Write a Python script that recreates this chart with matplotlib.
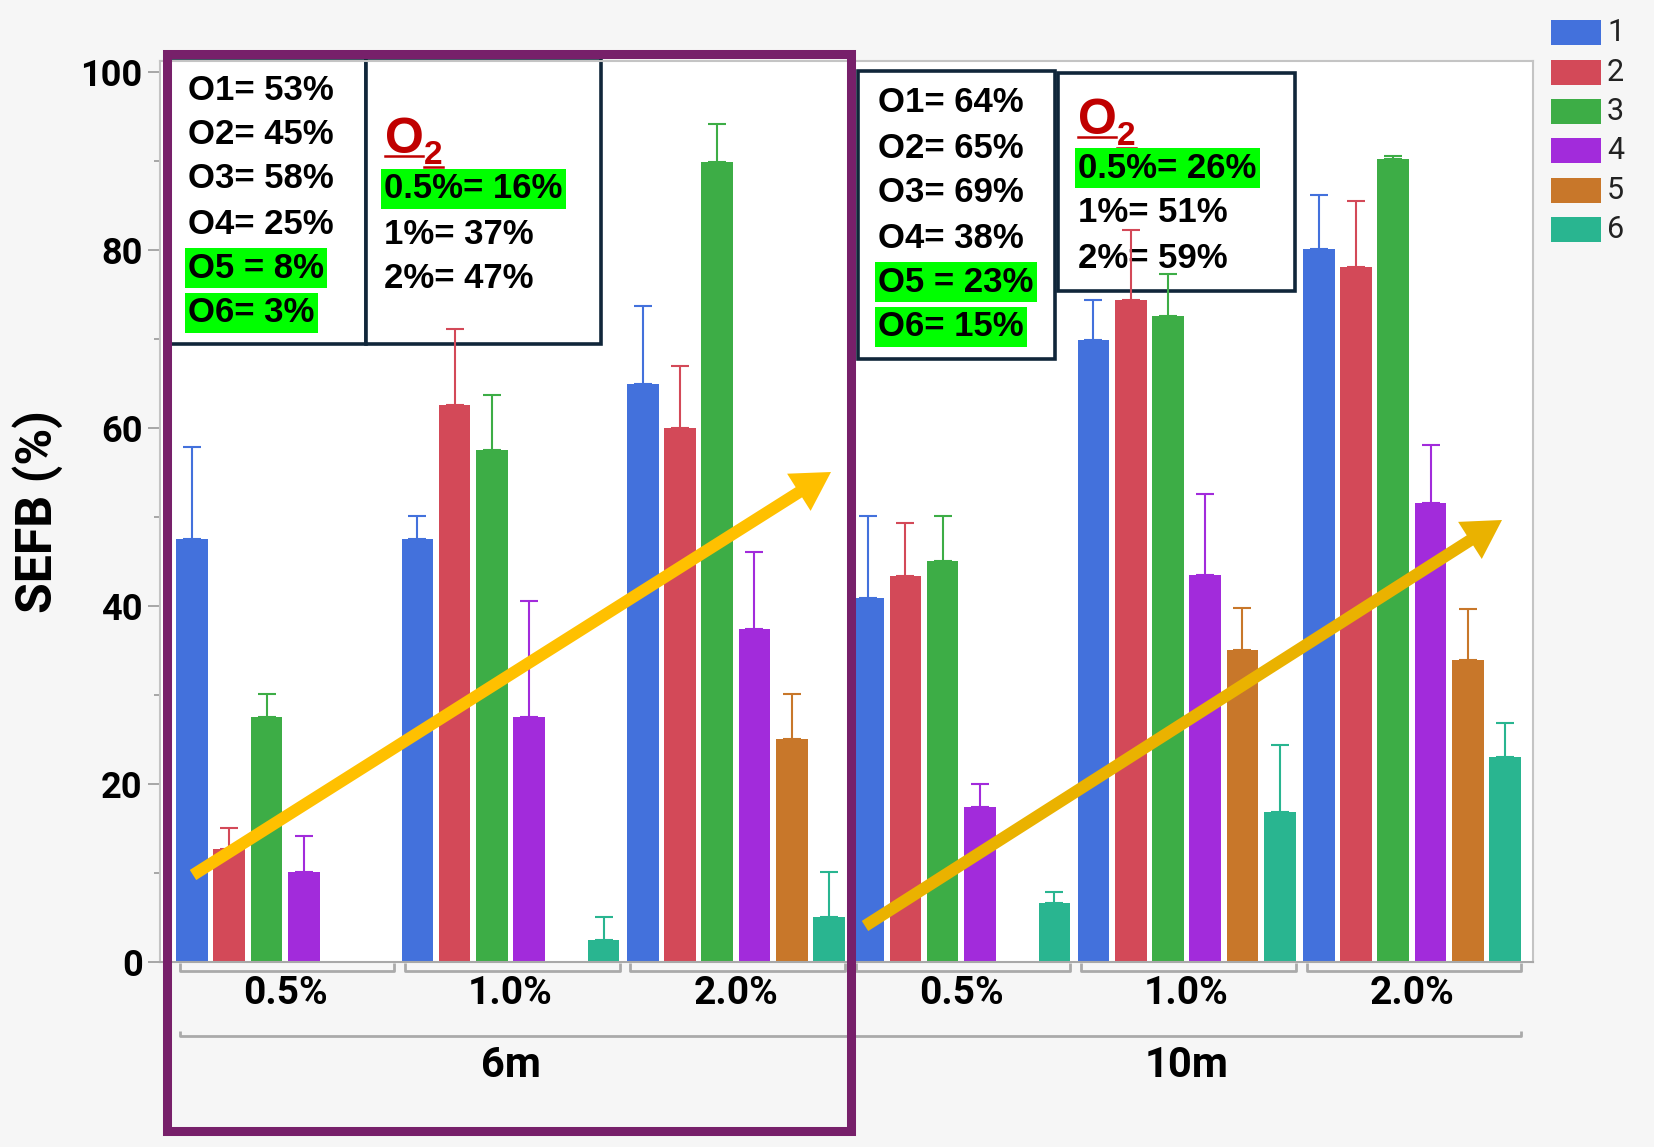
import numpy as np
import matplotlib
matplotlib.use('Agg')
import matplotlib.pyplot as plt
from matplotlib.patches import Rectangle, FancyArrow

plt.rcParams['font.family'] = ['Roboto', 'DejaVu Sans']

# groups along x: depth, then O2 level
depths = ['6m', '10m']
levels = ['0.5%', '1.0%', '2.0%']
series = ['1', '2', '3', '4', '5', '6']
colors = ['#4371DC', '#D34958', '#3DAD46', '#A22BDB', '#C8772A', '#29B590']

# SEFB (%) per group (rows) and series (columns)
sefb = np.array([
    [47.5, 12.7, 27.5, 10.1, 0.0, 0.0],
    [47.5, 62.6, 57.5, 27.5, 0.0, 2.5],
    [64.9, 60.0, 89.9, 37.4, 25.0, 5.0],
    [40.9, 43.4, 45.0, 17.4, 0.0, 6.6],
    [69.9, 74.4, 72.6, 43.5, 35.0, 16.8],
    [80.1, 78.1, 90.2, 51.5, 33.9, 23.0],
])
# top of the error bars
sefb_hi = np.array([
    [57.8, 15.0, 30.1, 14.1, 0.0, 0.0],
    [50.1, 71.1, 63.7, 40.6, 0.0, 5.0],
    [73.7, 66.9, 94.1, 46.1, 30.1, 10.1],
    [50.1, 49.3, 50.1, 20.0, 0.0, 7.9],
    [74.3, 82.2, 77.3, 52.6, 39.8, 24.4],
    [86.1, 85.5, 90.5, 58.1, 39.6, 26.8],
])

summary_6m = ['O1= 53%', 'O2= 45%', 'O3= 58%', 'O4= 25%', 'O5 = 8%', 'O6= 3%']
o2_6m = ['0.5%= 16%', '1%= 37%', '2%= 47%']
summary_10m = ['O1= 64%', 'O2= 65%', 'O3= 69%', 'O4= 38%', 'O5 = 23%', 'O6= 15%']
o2_10m = ['0.5%= 26%', '1%= 51%', '2%= 59%']

W, H = 1654, 1147
fig = plt.figure(figsize=(W / 100, H / 100), dpi=100, facecolor='#f6f6f6')

left, right, top, bottom = 160, 1533, 61, 962


def pixel_axes(z):
    a = fig.add_axes([0, 0, 1, 1])
    a.set_xlim(0, W)
    a.set_ylim(H, 0)
    a.axis('off')
    a.set_zorder(z)
    return a


# back layer: plot background and the note boxes (bars go over them)
back = pixel_axes(0)
back.add_patch(Rectangle((left, top), right - left, bottom - top, fc='white', ec='none'))

ax = fig.add_axes([left / W, 1 - bottom / H, (right - left) / W, (bottom - top) / H])
ax.set_zorder(1)
ax.patch.set_visible(False)

gap = 6.05
n_groups = sefb.shape[0]
group_x = np.arange(n_groups) * gap
bar_w = 0.85

for i, name in enumerate(series):
    xs = group_x + i
    vals = sefb[:, i]
    ax.bar(xs, vals, width=bar_w, color=colors[i], zorder=2)
    m = vals > 0
    err = sefb_hi[m, i] - vals[m]
    ax.errorbar(xs[m], vals[m], yerr=[np.zeros_like(err), err], fmt='none',
                ecolor=colors[i], elinewidth=1.5, capsize=6.5, capthick=1.5, zorder=3)

ax.set_xlim(-0.86, 36.0)
ax.set_ylim(0, 101.2)
ax.set_xticks([])
ax.set_yticks(np.arange(0, 101, 20))
ax.set_yticks(np.arange(10, 100, 20), minor=True)
ax.tick_params(axis='y', which='major', length=8.6, width=1.3, color='#a0a0a0', pad=4, labelsize=26)
ax.tick_params(axis='y', which='minor', length=4.5, width=1.3, color='#a0a0a0')
for lab in ax.get_yticklabels():
    lab.set_fontweight('bold')
for s in ax.spines.values():
    s.set_color('#c4c4c4')
    s.set_linewidth(1.5)
ax.spines['bottom'].set_color('#a8a8a8')

ax.set_ylabel('SEFB (%)', fontsize=36, fontweight='bold')
ax.yaxis.set_label_coords(-0.071, 0.5)

# grouped category axis below the bars
xt = ax.get_xaxis_transform()
brk = dict(color='#aaaaaa', lw=2, transform=xt, clip_on=False, solid_capstyle='butt')
for g in range(n_groups):
    x0, x1 = group_x[g] - 0.33, group_x[g] + 5.43
    ax.plot([x0, x0, x1, x1], [-0.001, -0.010, -0.010, -0.001], **brk)
    ax.text(group_x[g] + 2.5, -0.035, levels[g % 3], transform=xt, ha='center', va='center',
            fontsize=28, fontweight='bold')
for d, name in enumerate(depths):
    x0 = group_x[3 * d] - 0.33 if d == 0 else group_x[3 * d] - 0.4
    x1 = group_x[3 * d + 2] + 5.43 if d == 1 else group_x[3 * d + 2] + 5.65
    ax.plot([x0, x0, x1, x1], [-0.0766, -0.0821, -0.0821, -0.0766], **brk)
    ax.text(group_x[3 * d + 1] + 2.5, -0.1154, name, transform=xt, ha='center', va='center',
            fontsize=30, fontweight='bold')

box_kw = dict(fc='white', ec='#10263A', lw=2.6)
for (x0, y0, x1, y1) in [(169, 58, 366, 344), (366, 58, 601, 344),
                         (858, 71, 1055, 359), (1058, 73, 1295, 291)]:
    back.add_patch(Rectangle((x0, y0), x1 - x0, y1 - y0, **box_kw))

note_font = ['Liberation Sans', 'DejaVu Sans']
txt_kw = dict(family=note_font, fontweight='bold', fontsize=25,
              ha='left', va='center', color='black')
hl = dict(boxstyle='square,pad=0.09', fc='#00ff00', ec='none')


def note_lines(x, ys, lines, marked):
    for j, (y, s) in enumerate(zip(ys, lines)):
        back.text(x, y, s, bbox=hl if j in marked else None, **txt_kw)


def o2_title(x, y):
    red = '#C00000'
    back.text(x, y, 'O', family=note_font, fontweight='bold',
              fontsize=36, color=red, ha='left', va='baseline')
    back.text(x + 39, y + 11, '2', family=note_font, fontweight='bold',
              fontsize=24, color=red, ha='left', va='baseline')
    back.plot([x, x + 38], [y + 3, y + 3], color=red, lw=1.8)
    back.plot([x + 39, x + 58], [y + 14, y + 14], color=red, lw=1.8)


note_lines(188, [90, 134, 178, 224, 268, 313], summary_6m, {4, 5})
o2_title(385, 153)
note_lines(384, [189, 234, 278], o2_6m, {0})
note_lines(878, [103, 148, 193, 238, 282, 327], summary_10m, {4, 5})
o2_title(1078, 134)
note_lines(1078, [168, 213, 259], o2_10m, {0})

# front layer: legend, panel frame, trend arrows
front = pixel_axes(2)
for k, name in enumerate(series):
    y = 32.7 + k * 39.4
    front.add_patch(Rectangle((1551, y - 12.5), 50, 25, fc=colors[k], ec='none'))
    front.text(1607, y, name, ha='left', va='center', fontsize=22, color='#222222')

front.add_patch(Rectangle((167, 54), 851 - 167, 1131 - 54, fill=False, ec='#77206A', lw=6.5))

for (x0, y0, x1, y1, c) in [(193, 875, 831, 472, '#FFC000'), (865, 926, 1502, 520, '#EAB200')]:
    front.add_patch(FancyArrow(x0, y0, x1 - x0, y1 - y0, width=12, head_width=44, head_length=38,
                               length_includes_head=True, fc=c, ec='none'))

fig.savefig('out.png', dpi=100, facecolor=fig.get_facecolor())
